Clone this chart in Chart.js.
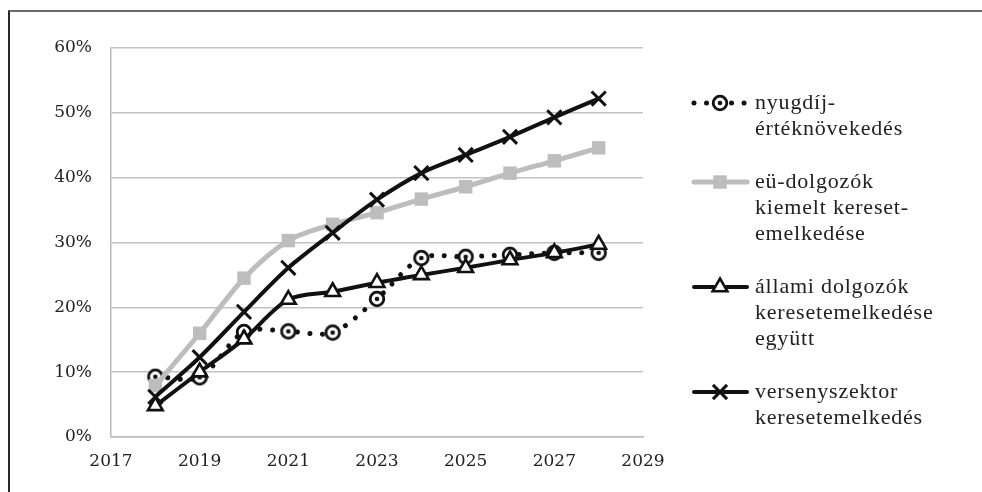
<!DOCTYPE html>
<html>
<head>
<meta charset="utf-8">
<script src="https://cdn.jsdelivr.net/npm/chart.js@4.4.1/dist/chart.umd.min.js"></script>
<style>
html, body { margin: 0; padding: 0; background: #fff; }
#wrap { position: relative; width: 982px; height: 492px; overflow: hidden; }
#frame { position: absolute; left: 8px; top: 10px; width: 1000px; height: 520px;
         border-top: 2px solid #6a6a6a; border-left: 2px solid #2a2a2a; }
#box { position: absolute; left: 0; top: 0; width: 982px; height: 492px; }
.probe { position: absolute; left: -500px; top: 0; font-size: 20px; }
</style>
</head>
<body>
<div id="wrap">
  <div id="frame"></div>
  <div id="box"><canvas id="chart"></canvas></div>
</div>
<span class="probe" style="font-family:'DejaVu Serif'">2017 60%</span>
<span class="probe" style="font-family:'Liberation Serif'">értéknövekedés</span>
<script>
var years = [2018, 2019, 2020, 2021, 2022, 2023, 2024, 2025, 2026, 2027, 2028];
var nyugdij = [9.3, 9.2, 16.2, 16.3, 16.1, 21.3, 27.6, 27.8, 28.1, 28.4, 28.4];
var euDolgozok = [7.9, 16.0, 24.5, 30.3, 32.8, 34.6, 36.7, 38.6, 40.7, 42.6, 44.6];
var allami = [4.8, 10.0, 15.1, 21.2, 22.4, 23.8, 25.0, 26.1, 27.3, 28.4, 29.7];
var verseny = [6.2, 12.3, 19.3, 26.1, 31.5, 36.6, 40.7, 43.5, 46.3, 49.3, 52.2];
var xTicks = [2017, 2019, 2021, 2023, 2025, 2027, 2029];
var yTicks = [0, 10, 20, 30, 40, 50, 60];
var legendLines = [
    ["nyugdíj-", "értéknövekedés"],
    ["eü-dolgozók", "kiemelt kereset-", "emelkedése"],
    ["állami dolgozók", "keresetemelkedése", "együtt"],
    ["versenyszektor", "keresetemelkedés"]
];

var SERIF_TICK = "'DejaVu Serif', 'Liberation Serif', serif";
var SERIF_LEGEND = "'Liberation Serif', 'DejaVu Serif', serif";

function points(vals) {
    var out = [];
    for (var i = 0; i < years.length; i++) out.push({ x: years[i], y: vals[i] });
    return out;
}

// circle marker with a dot in the middle
var circleImg = document.createElement('canvas');
circleImg.width = 20; circleImg.height = 20;
(function () {
    var c = circleImg.getContext('2d');
    c.beginPath(); c.arc(10, 10, 6.8, 0, Math.PI * 2);
    c.fillStyle = '#fff'; c.fill();
    c.lineWidth = 2.8; c.strokeStyle = '#111'; c.stroke();
    c.beginPath(); c.arc(10, 10, 2.3, 0, Math.PI * 2);
    c.fillStyle = '#111'; c.fill();
})();

var datasets = [{
    label: legendLines[0].join(' '),
    data: points(nyugdij),
    borderColor: '#111',
    borderWidth: 5,
    borderDash: [0.01, 12.5],
    borderCapStyle: 'round',
    pointStyle: circleImg,
    tension: 0.3,
    order: 4
}, {
    label: legendLines[1].join(' '),
    data: points(euDolgozok),
    borderColor: '#bdbdbf',
    borderWidth: 5,
    pointStyle: 'rect',
    pointRadius: 9.5,
    pointBackgroundColor: '#bdbdbf',
    pointBorderColor: '#bdbdbf',
    pointBorderWidth: 0,
    tension: 0.3,
    order: 3
}, {
    label: legendLines[2].join(' '),
    data: points(allami),
    borderColor: '#111',
    borderWidth: 4,
    pointStyle: 'triangle',
    pointRadius: 8.5,
    pointBackgroundColor: '#fff',
    pointBorderColor: '#111',
    pointBorderWidth: 2.6,
    tension: 0.3,
    order: 2
}, {
    label: legendLines[3].join(' '),
    data: points(verseny),
    borderColor: '#111',
    borderWidth: 4,
    pointStyle: 'crossRot',
    pointRadius: 10,
    pointBorderColor: '#111',
    pointBorderWidth: 3,
    tension: 0.3,
    order: 1
}];

function drawMarker(ctx, ds, x, y) {
    ctx.save();
    if (ds.pointStyle === circleImg) {
        ctx.drawImage(circleImg, x - 10, y - 10);
    } else if (ds.pointStyle === 'rect') {
        var s = ds.pointRadius * Math.SQRT1_2;
        ctx.fillStyle = ds.pointBackgroundColor;
        ctx.fillRect(x - s, y - s, 2 * s, 2 * s);
    } else if (ds.pointStyle === 'triangle') {
        var r = ds.pointRadius;
        ctx.beginPath();
        ctx.moveTo(x, y - r);
        ctx.lineTo(x + r * Math.sin(Math.PI / 3), y + r / 2);
        ctx.lineTo(x - r * Math.sin(Math.PI / 3), y + r / 2);
        ctx.closePath();
        ctx.fillStyle = ds.pointBackgroundColor; ctx.fill();
        ctx.lineWidth = ds.pointBorderWidth; ctx.strokeStyle = ds.pointBorderColor; ctx.stroke();
    } else if (ds.pointStyle === 'crossRot') {
        var d = ds.pointRadius * Math.SQRT1_2;
        ctx.beginPath();
        ctx.moveTo(x - d, y - d); ctx.lineTo(x + d, y + d);
        ctx.moveTo(x - d, y + d); ctx.lineTo(x + d, y - d);
        ctx.lineWidth = ds.pointBorderWidth; ctx.strokeStyle = ds.pointBorderColor; ctx.stroke();
    }
    ctx.restore();
}

var sideLegend = {
    id: 'sideLegend',
    afterDraw: function (chart) {
        var ctx = chart.ctx;
        var y = 103;
        chart.data.datasets.forEach(function (ds, i) {
            ctx.save();
            ctx.beginPath();
            ctx.moveTo(694, y); ctx.lineTo(747, y);
            ctx.strokeStyle = ds.borderColor;
            ctx.lineWidth = ds.borderWidth;
            ctx.lineCap = 'round';
            if (ds.borderDash) ctx.setLineDash(ds.borderDash);
            ctx.stroke();
            ctx.restore();
            drawMarker(ctx, ds, 720, y);

            ctx.save();
            ctx.fillStyle = '#222';
            ctx.font = '22px ' + SERIF_LEGEND;
            ctx.letterSpacing = '0.8px';
            ctx.textBaseline = 'middle';
            ctx.textAlign = 'left';
            legendLines[i].forEach(function (line, k) {
                ctx.fillText(line, 755, y + k * 26);
            });
            ctx.restore();
            y += legendLines[i].length * 26 + 27;
        });
    }
};

var tickFont = { family: SERIF_TICK, size: 17 };

function build() {
    new Chart(document.getElementById('chart'), {
        type: 'line',
        data: { datasets: datasets },
        options: {
            responsive: true,
            maintainAspectRatio: false,
            animation: false,
            layout: { padding: { left: 10, top: 48, right: 339, bottom: 0 } },
            plugins: { legend: { display: false }, tooltip: { enabled: false } },
            scales: {
                x: {
                    type: 'linear',
                    min: 2017,
                    max: 2029,
                    afterBuildTicks: function (scale) {
                        scale.ticks = xTicks.map(function (v) { return { value: v }; });
                    },
                    afterFit: function (scale) { scale.height = 55; },
                    ticks: {
                        font: tickFont,
                        color: '#222',
                        padding: 6,
                        maxRotation: 0,
                        callback: function (v) { return String(v); }
                    },
                    grid: { display: false },
                    border: { display: true, color: '#bcbcbc', width: 1.5 }
                },
                y: {
                    min: 0,
                    max: 60,
                    afterBuildTicks: function (scale) {
                        scale.ticks = yTicks.map(function (v) { return { value: v }; });
                    },
                    afterFit: function (scale) { scale.width = 101; },
                    ticks: {
                        font: tickFont,
                        color: '#222',
                        padding: 19,
                        callback: function (v) { return v + '%'; }
                    },
                    grid: { color: '#c2c2c2', lineWidth: 1.5, drawTicks: false },
                    border: { display: true, color: '#bcbcbc', width: 1.5 }
                }
            }
        },
        plugins: [sideLegend]
    });
}

Promise.all([
    document.fonts.load("17px 'DejaVu Serif'"),
    document.fonts.load("22px 'Liberation Serif'")
]).then(build, build);
</script>
</body>
</html>
